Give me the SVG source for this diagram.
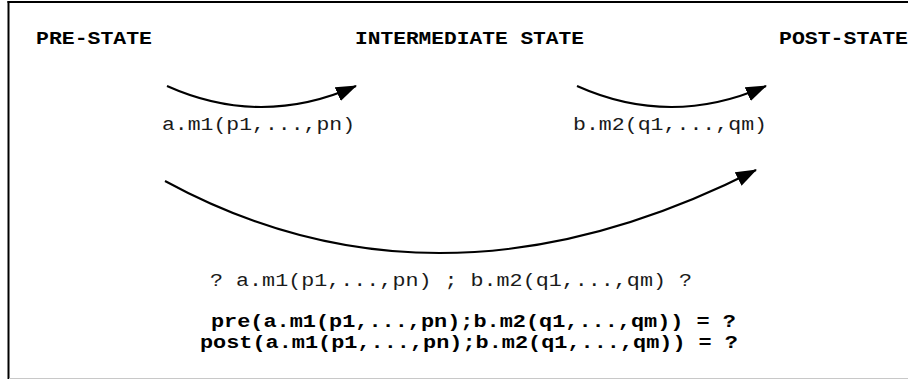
<svg xmlns="http://www.w3.org/2000/svg" width="908" height="380" viewBox="0 0 908 380">
  <style>
    .title { font-family: "Liberation Mono", "Courier New", monospace; font-weight: bold; font-size: 18px; fill: #000; }
    .lbl { font-family: "Liberation Mono", "Courier New", monospace; font-size: 19px; fill: #1a1a1a; }
    .q { font-family: "Liberation Mono", "Courier New", monospace; font-weight: bold; font-size: 17.5px; fill: #000; }
    .arc { fill: none; stroke: #000; stroke-width: 2; }
  </style>
  <defs>
    <marker id="ah" markerUnits="userSpaceOnUse" markerWidth="22" markerHeight="16" viewBox="0 0 22 16" refX="20" refY="8" orient="auto">
      <path d="M0,0.5 L21,8 L0,15.5 Z" fill="#000"/>
    </marker>
  </defs>
  <rect x="0" y="0" width="908" height="380" fill="#fff"/>
  <g id="frame">
    <line x1="8.5" y1="1" x2="8.5" y2="379" stroke="#000" stroke-width="2"/>
    <line x1="7.5" y1="2" x2="908" y2="2" stroke="#000" stroke-width="2"/>
    <line x1="9" y1="378.5" x2="908" y2="378.5" stroke="#c8c8c8" stroke-width="1"/>
  </g>
  <g id="pre-state">
    <text class="title" x="36" y="43.5" textLength="116" lengthAdjust="spacingAndGlyphs">PRE-STATE</text>
  </g>
  <g id="intermediate-state">
    <text class="title" x="355" y="43.5" textLength="229" lengthAdjust="spacingAndGlyphs">INTERMEDIATE STATE</text>
  </g>
  <g id="post-state">
    <text class="title" x="779" y="43.5" textLength="129" lengthAdjust="spacingAndGlyphs">POST-STATE</text>
  </g>
  <g id="connectors">
    <path class="arc" d="M167,86 Q261,128 356,86" marker-end="url(#ah)"/>
    <path class="arc" d="M577,86 Q671,128 766,86" marker-end="url(#ah)"/>
    <path class="arc" d="M165,181 Q439.5,330.5 756,170" marker-end="url(#ah)"/>
  </g>
  <g id="labels">
    <text class="lbl" x="162" y="130" textLength="193" lengthAdjust="spacingAndGlyphs">a.m1(p1,...,pn)</text>
    <text class="lbl" x="573" y="130" textLength="194" lengthAdjust="spacingAndGlyphs">b.m2(q1,...,qm)</text>
    <text class="lbl" x="210" y="286" textLength="482" lengthAdjust="spacingAndGlyphs">? a.m1(p1,...,pn) ; b.m2(q1,...,qm) ?</text>
  </g>
  <g id="question">
    <text class="q" x="211" y="327" textLength="525" lengthAdjust="spacingAndGlyphs">pre(a.m1(p1,...,pn);b.m2(q1,...,qm)) = ?</text>
    <text class="q" x="200" y="348" textLength="538" lengthAdjust="spacingAndGlyphs">post(a.m1(p1,...,pn);b.m2(q1,...,qm)) = ?</text>
  </g>
</svg>
